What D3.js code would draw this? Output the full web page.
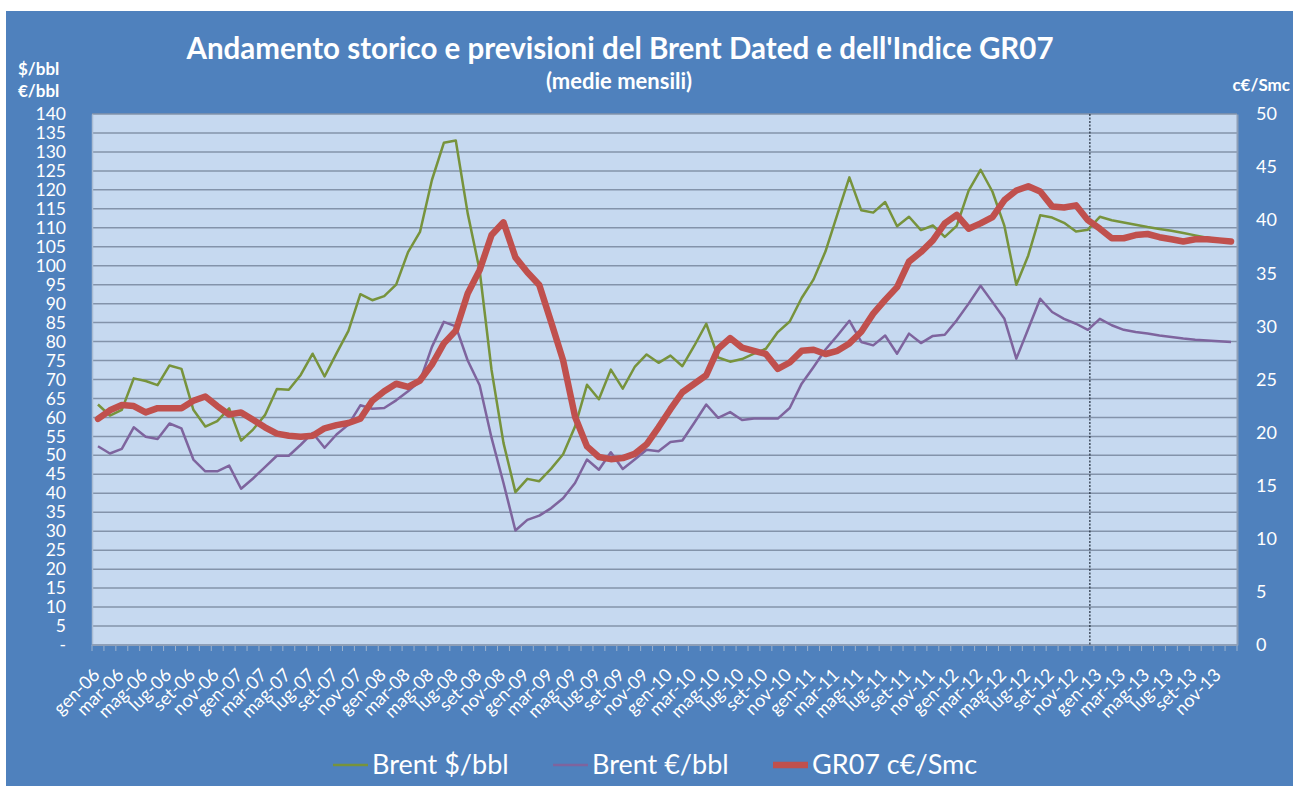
<!DOCTYPE html>
<html>
<head>
<meta charset="utf-8">
<script src="https://cdn.jsdelivr.net/npm/d3@7"></script>
<style>
  body { margin: 0; background: #ffffff; }
  #chart { width: 1298px; height: 790px; }
</style>
</head>
<body>
<div id="chart"></div>
<script>
// categorie: mesi gen-06 ... dic-13
const monthNames = ['gen', 'feb', 'mar', 'apr', 'mag', 'giu', 'lug', 'ago', 'set', 'ott', 'nov', 'dic'];
const years = ['06', '07', '08', '09', '10', '11', '12', '13'];

// Brent $/bbl (asse sinistro)
const brentUsd = [
  63.4, 60.5, 62.0, 70.3, 69.6, 68.5, 73.7, 72.8, 62.0, 57.6, 59.0, 62.4,
  53.9, 56.8, 60.6, 67.5, 67.3, 71.2, 76.8, 70.8, 76.9, 82.8, 92.5, 90.9,
  92.0, 95.0, 103.6, 108.9, 122.6, 132.4, 133.0, 113.8, 98.8, 72.5, 53.3, 40.3,
  43.8, 43.2, 46.5, 50.3, 57.6, 68.6, 64.8, 72.6, 67.6, 73.3, 76.6, 74.4,
  76.3, 73.5, 78.9, 84.7, 75.8, 74.7, 75.4, 76.8, 78.1, 82.5, 85.3, 91.5,
  96.4, 103.8, 113.6, 123.3, 114.6, 114.0, 116.8, 110.4, 112.9, 109.4, 110.6, 107.6,
  110.5, 119.8, 125.3, 119.5, 110.5, 95.0, 102.7, 113.3, 112.7, 111.3, 109.0, 109.5,
  112.9, 112.0, 111.4, 110.8, 110.2, 109.7, 109.2, 108.6, 108.0, 107.4, 107.0, 106.6
];

// Brent €/bbl (asse sinistro)
const brentEur = [
  52.4, 50.5, 51.7, 57.4, 54.9, 54.3, 58.4, 57.1, 48.9, 45.8, 45.8, 47.3,
  41.2, 43.9, 46.9, 49.9, 49.9, 52.8, 55.9, 52.0, 55.5, 58.1, 63.2, 62.3,
  62.5, 64.5, 66.9, 69.6, 78.6, 85.2, 84.0, 75.0, 68.5, 54.6, 42.7, 30.2,
  33.0, 34.1, 36.1, 38.7, 42.7, 48.9, 46.2, 50.8, 46.4, 48.9, 51.5, 51.1,
  53.5, 53.9, 58.6, 63.4, 59.9, 61.4, 59.3, 59.7, 59.7, 59.7, 62.5, 68.9,
  73.3, 77.9, 81.6, 85.5, 79.9, 79.0, 81.6, 76.8, 82.1, 79.6, 81.5, 81.8,
  85.6, 90.0, 94.7, 90.4, 86.0, 75.5, 83.4, 91.3, 87.8, 86.0, 84.7, 83.1,
  86.0, 84.3, 83.1, 82.5, 82.1, 81.6, 81.2, 80.8, 80.5, 80.3, 80.1, 79.9
];

// GR07 c€/Smc (asse destro)
const gr07 = [
  21.3, 22.1, 22.6, 22.5, 21.9, 22.3, 22.3, 22.3, 23.0, 23.4, 22.5, 21.7,
  21.9, 21.2, 20.5, 19.9, 19.7, 19.6, 19.7, 20.4, 20.7, 20.9, 21.3, 23.0,
  23.9, 24.6, 24.3, 24.9, 26.4, 28.4, 29.6, 33.1, 35.3, 38.6, 39.8, 36.5,
  35.1, 33.9, 30.4, 26.8, 21.5, 18.7, 17.7, 17.5, 17.6, 18.0, 18.9, 20.5,
  22.2, 23.8, 24.6, 25.4, 27.9, 28.9, 28.0, 27.7, 27.4, 26.0, 26.6, 27.7,
  27.8, 27.4, 27.7, 28.4, 29.5, 31.2, 32.5, 33.7, 36.1, 37.0, 38.1, 39.7,
  40.5, 39.2, 39.7, 40.3, 41.9, 42.8, 43.2, 42.7, 41.3, 41.2, 41.4, 40.0,
  39.2, 38.3, 38.3, 38.6, 38.7, 38.4, 38.2, 38.0, 38.2, 38.2, 38.1, 38.0
];

const leftTicks = [0, 5, 10, 15, 20, 25, 30, 35, 40, 45, 50, 55, 60, 65, 70, 75, 80, 85, 90, 95, 100, 105, 110, 115, 120, 125, 130, 135, 140];
const rightTicks = [0, 5, 10, 15, 20, 25, 30, 35, 40, 45, 50];
const forecastStart = 'gen-13';

const seriesNames = ['Brent $/bbl', 'Brent €/bbl', 'GR07 c€/Smc'];
const seriesColors = ['#77933C', '#7E649E', '#C0504D'];

// etichette dei mesi
var months = [];
years.forEach(y => monthNames.forEach(m => months.push(m + '-' + y)));

const W = 1298, H = 790;
const font = "Lato, 'Open Sans', sans-serif";
const plot = { left: 92, right: 1237, top: 114, bottom: 645 };

let svg = d3.select('#chart').append('svg')
  .attr('width', W)
  .attr('height', H);

// sfondo blu
svg.append('rect')
  .attr('x', 6).attr('y', 11)
  .attr('width', 1287).attr('height', 775)
  .attr('fill', '#4F81BD');

// scale
const x = d3.scaleBand().domain(months).range([plot.left, plot.right]).padding(0);
const yLeft = d3.scaleLinear().domain([0, 140]).range([plot.bottom, plot.top]);
const yRight = d3.scaleLinear().domain([0, 50]).range([plot.bottom, plot.top]);
const cx = d => x(d) + x.bandwidth() / 2;

// area del grafico
svg.append('rect')
  .attr('x', plot.left).attr('y', plot.top)
  .attr('width', plot.right - plot.left).attr('height', plot.bottom - plot.top)
  .attr('fill', '#C6D9F0');

// griglia
svg.append('g')
  .selectAll('line')
  .data(leftTicks.filter(t => t > 0))
  .enter().append('line')
  .attr('x1', plot.left).attr('x2', plot.right)
  .attr('y1', d => yLeft(d)).attr('y2', d => yLeft(d))
  .attr('stroke', '#8393AA')
  .attr('stroke-width', 1.5);

// asse sinistro
var gLeft = svg.append('g')
  .attr('transform', 'translate(' + plot.left + ',0)')
  .call(d3.axisLeft(yLeft).tickValues(leftTicks).tickSize(0).tickPadding(26)
    .tickFormat(d => d === 0 ? '-' : d));
gLeft.select('.domain').attr('stroke', '#A9BCD3').attr('stroke-width', 1.5);
gLeft.selectAll('text')
  .attr('fill', '#ffffff')
  .attr('font-family', font)
  .attr('font-size', '17.5px');

// asse destro
var gRight = svg.append('g')
  .attr('transform', 'translate(' + plot.right + ',0)')
  .call(d3.axisRight(yRight).tickValues(rightTicks).tickSize(0).tickPadding(19));
gRight.select('.domain').attr('stroke', '#8E9FB7').attr('stroke-width', 2);
gRight.selectAll('text')
  .attr('fill', '#ffffff')
  .attr('font-family', font)
  .attr('font-size', '18px');

// asse x: tacche ai bordi delle categorie
svg.append('g')
  .selectAll('line')
  .data(months.concat(['end']))
  .enter().append('line')
  .attr('x1', (d, i) => plot.left + i * x.bandwidth())
  .attr('x2', (d, i) => plot.left + i * x.bandwidth())
  .attr('y1', plot.bottom)
  .attr('y2', plot.bottom + 6)
  .attr('stroke', '#9DB3CF')
  .attr('stroke-width', 1);
svg.append('line')
  .attr('x1', plot.left).attr('x2', plot.right)
  .attr('y1', plot.bottom).attr('y2', plot.bottom)
  .attr('stroke', '#8E9FB7').attr('stroke-width', 2);

// etichette mesi ogni 2
svg.append('g')
  .selectAll('text')
  .data(months.filter((d, i) => i % 2 === 0))
  .enter().append('text')
  .attr('transform', d => 'translate(' + (cx(d) + 3) + ',' + (plot.bottom + 31) + ') rotate(-45)')
  .attr('text-anchor', 'end')
  .attr('fill', '#ffffff')
  .attr('font-family', font)
  .attr('font-size', '18px')
  .text(d => d);

// linea tratteggiata inizio previsioni
const xf = x(forecastStart) - 4;
svg.append('line')
  .attr('x1', xf).attr('x2', xf)
  .attr('y1', plot.top).attr('y2', plot.bottom)
  .attr('stroke', '#1F2A3A')
  .attr('stroke-width', 1.2)
  .attr('stroke-dasharray', '2,1.5');

// linee
const lineLeft = d3.line().x((d, i) => cx(months[i])).y(d => yLeft(d));
const lineRight = d3.line().x((d, i) => cx(months[i])).y(d => yRight(d));

svg.append('path').datum(brentUsd)
  .attr('d', lineLeft)
  .attr('fill', 'none')
  .attr('stroke', seriesColors[0])
  .attr('stroke-width', 2.5)
  .attr('stroke-linejoin', 'round');
svg.append('path').datum(brentEur)
  .attr('d', lineLeft)
  .attr('fill', 'none')
  .attr('stroke', seriesColors[1])
  .attr('stroke-width', 2.5)
  .attr('stroke-linejoin', 'round');
svg.append('path').datum(gr07)
  .attr('d', lineRight)
  .attr('fill', 'none')
  .attr('stroke', seriesColors[2])
  .attr('stroke-width', 6.5)
  .attr('stroke-linejoin', 'round')
  .attr('stroke-linecap', 'round');

// titoli
svg.append('text')
  .attr('x', 620).attr('y', 59)
  .attr('text-anchor', 'middle')
  .attr('fill', '#ffffff')
  .attr('font-family', font)
  .attr('font-weight', 'bold')
  .attr('font-size', '29.5px')
  .text("Andamento storico e previsioni del Brent Dated e dell'Indice GR07");
svg.append('text')
  .attr('x', 619).attr('y', 89)
  .attr('text-anchor', 'middle')
  .attr('fill', '#ffffff')
  .attr('font-family', font)
  .attr('font-weight', 'bold')
  .attr('font-size', '22px')
  .text('(medie mensili)');

// unita di misura
const units = [['$/bbl', 18, 75, 'start'], ['€/bbl', 18, 97, 'start'], ['c€/Smc', 1290, 91, 'end']];
units.forEach(u => {
  svg.append('text')
    .attr('x', u[1]).attr('y', u[2])
    .attr('text-anchor', u[3])
    .attr('fill', '#ffffff')
    .attr('font-family', font)
    .attr('font-weight', 'bold')
    .attr('font-size', '17px')
    .text(u[0]);
});

// legenda
const legendX = [333, 553, 773];
const legendW = [2.5, 2.5, 6.5];
var gLegend = svg.append('g').attr('transform', 'translate(0,765)');
seriesNames.forEach((s, i) => {
  gLegend.append('line')
    .attr('x1', legendX[i]).attr('x2', legendX[i] + 35)
    .attr('y1', 0).attr('y2', 0)
    .attr('stroke', seriesColors[i])
    .attr('stroke-width', legendW[i]);
  gLegend.append('text')
    .attr('x', legendX[i] + 39)
    .attr('y', 9)
    .attr('fill', '#ffffff')
    .attr('font-family', font)
    .attr('font-size', '27px')
    .text(s);
});
</script>
</body>
</html>
